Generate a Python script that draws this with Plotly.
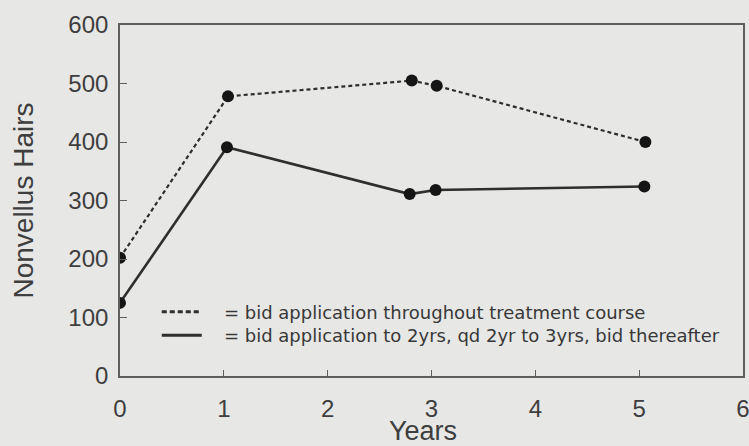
import plotly.graph_objects as go

years_bid = [0, 1.04, 2.81, 3.05, 5.06]
hairs_bid = [202, 478, 505, 496, 400]
years_mixed = [0, 1.03, 2.79, 3.04, 5.05]
hairs_mixed = [125, 391, 311, 318, 324]
label_bid = "   = bid application throughout treatment course"
label_mixed = "   = bid application to 2yrs, qd 2yr to 3yrs, bid thereafter"
x_title = "Years"
y_title = "Nonvellus Hairs"
x_ticks = [0, 1, 2, 3, 4, 5, 6]
y_ticks = [0, 100, 200, 300, 400, 500, 600]

bg = "#e7e7e5"
ink = "#2e2e2e"
axis_col = "#5e5e5e"
text_col = "#3e3e3e"
font = "Liberation Sans, Arial, sans-serif"
legend_font = dict(family="DejaVu Sans, sans-serif", size=18, color="#383838")

fig = go.Figure()
fig.add_trace(go.Scatter(x=years_bid, y=hairs_bid, mode="lines+markers",
                         line=dict(color=ink, width=2.2, dash="4px,3px"),
                         marker=dict(color="#151515", size=12), showlegend=False))
fig.add_trace(go.Scatter(x=years_mixed, y=hairs_mixed, mode="lines+markers",
                         line=dict(color=ink, width=2.6),
                         marker=dict(color="#151515", size=12), showlegend=False))
fig.add_trace(go.Scatter(x=[None], y=[None], mode="lines", name=label_bid,
                         legend="legend",
                         line=dict(color=ink, width=3, dash="5px,3px")))
fig.add_trace(go.Scatter(x=[None], y=[None], mode="lines", name=label_mixed,
                         legend="legend2",
                         line=dict(color=ink, width=3.2)))

fig.add_annotation(text=x_title, xref="paper", yref="paper", x=0.486, y=-0.158,
                   xanchor="center", yanchor="middle", showarrow=False,
                   font=dict(size=27, color=text_col, family=font))

fig.update_layout(
    width=749, height=446,
    margin=dict(l=120, r=6, t=25, b=70),
    paper_bgcolor=bg, plot_bgcolor=bg,
    font=dict(family=font, color=text_col),
    legend=dict(x=0.059, y=0.235, xanchor="left", yanchor="top",
                bgcolor="rgba(0,0,0,0)", itemwidth=40, font=legend_font),
    legend2=dict(x=0.059, y=0.168, xanchor="left", yanchor="top",
                 bgcolor="rgba(0,0,0,0)", itemwidth=40, font=legend_font),
    xaxis=dict(range=[0, 6], tickvals=x_ticks, ticks="inside", ticklen=6,
               tickcolor=axis_col, showline=True, linecolor=axis_col, linewidth=1.6,
               mirror=True, showgrid=False, zeroline=False, ticklabelstandoff=10,
               automargin=False, ticklabeloverflow="allow",
               tickfont=dict(size=24, color=text_col)),
    yaxis=dict(range=[0, 600], tickvals=y_ticks, ticks="inside", ticklen=7,
               tickcolor=axis_col, showline=True, linecolor=axis_col, linewidth=1.6,
               mirror=True, showgrid=False, zeroline=False, ticklabelstandoff=5,
               automargin=False, ticklabeloverflow="allow",
               tickfont=dict(size=24, color=text_col),
               title=dict(text=y_title, font=dict(size=28, color=text_col), standoff=27)),
)
fig.write_html("out.html", config={"displayModeBar": False},
               post_script="document.body.style.margin='0';document.body.style.background='#e7e7e5';")
